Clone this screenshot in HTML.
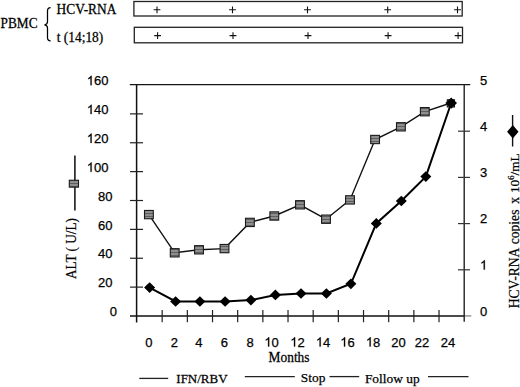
<!DOCTYPE html><html><head><meta charset="utf-8"><style>html,body{margin:0;padding:0;background:#fff;}svg{display:block;}</style></head><body>
<svg width="520" height="387" viewBox="0 0 520 387">
<rect x="0" y="0" width="520" height="387" fill="#fff"/>
<text transform="translate(0.6,27.7) scale(1,1.03)" style="font-family:'Liberation Serif',serif;font-size:13.3px" fill="#000" stroke="#000" stroke-width="0.25" >PBMC</text>
<text transform="translate(56.6,13.9) scale(1,1.04)" style="font-family:'Liberation Serif',serif;font-size:13.4px" fill="#000" stroke="#000" stroke-width="0.25" >HCV-RNA</text>
<text transform="translate(56.8,42.3) scale(1,1.02)" style="font-family:'Liberation Serif',serif;font-size:13.4px" fill="#000" stroke="#000" stroke-width="0.25" >t (14;18)</text>
<path d="M50.6,7.5 C48.3,7.5 47.5,8.5 47.5,11 L47.5,21.5 C47.5,23.5 46.6,24.6 44.5,24.8 C46.6,25 47.5,26 47.5,28 L47.5,37.6 C47.5,40 48.3,40.9 50.6,40.9" fill="none" stroke="#000" stroke-width="1.25"/>
<rect x="133.9" y="1.5" width="328.3" height="14.5" fill="none" stroke="#222" stroke-width="1.3"/>
<rect x="134.3" y="27.3" width="328.2" height="15.5" fill="none" stroke="#222" stroke-width="1.3"/>
<path d="M153.6,9.8H160.4M157.0,6.4V13.200000000000001" stroke="#111" stroke-width="1.1" fill="none"/>
<path d="M229.1,9.8H235.9M232.5,6.4V13.200000000000001" stroke="#111" stroke-width="1.1" fill="none"/>
<path d="M304.1,9.8H310.9M307.5,6.4V13.200000000000001" stroke="#111" stroke-width="1.1" fill="none"/>
<path d="M384.3,9.8H391.09999999999997M387.7,6.4V13.200000000000001" stroke="#111" stroke-width="1.1" fill="none"/>
<path d="M454.1,9.8H460.9M457.5,6.4V13.200000000000001" stroke="#111" stroke-width="1.1" fill="none"/>
<path d="M154.2,35.6H161.0M157.6,32.2V39.0" stroke="#111" stroke-width="1.1" fill="none"/>
<path d="M229.6,35.6H236.4M233.0,32.2V39.0" stroke="#111" stroke-width="1.1" fill="none"/>
<path d="M304.6,35.6H311.4M308.0,32.2V39.0" stroke="#111" stroke-width="1.1" fill="none"/>
<path d="M384.70000000000005,35.6H391.5M388.1,32.2V39.0" stroke="#111" stroke-width="1.1" fill="none"/>
<path d="M454.70000000000005,35.6H461.5M458.1,32.2V39.0" stroke="#111" stroke-width="1.1" fill="none"/>
<g fill="none" stroke-linecap="butt">
<path d="M129.8,84.6H470.2" stroke="#151515" stroke-width="1.35"/>
<path d="M130,315.9H464.2" stroke="#111" stroke-width="1.5"/>
<path d="M464.2,315.9H471.3" stroke="#888" stroke-width="1.3"/>
<path d="M136.6,84V322.5" stroke="#111" stroke-width="1.5"/>
<path d="M464.2,84V321.8" stroke="#1a1a1a" stroke-width="1.35"/>
<path d="M130,287.12H143" stroke="#222" stroke-width="1.2"/>
<path d="M130,258.25H143" stroke="#222" stroke-width="1.2"/>
<path d="M130,229.38H143" stroke="#222" stroke-width="1.2"/>
<path d="M130,200.50H143" stroke="#222" stroke-width="1.2"/>
<path d="M130,171.62H143" stroke="#222" stroke-width="1.2"/>
<path d="M130,142.75H143" stroke="#222" stroke-width="1.2"/>
<path d="M130,113.88H143" stroke="#222" stroke-width="1.2"/>
<path d="M458,269.80H470" stroke="#333" stroke-width="1.2"/>
<path d="M458,223.60H470" stroke="#333" stroke-width="1.2"/>
<path d="M458,177.40H470" stroke="#333" stroke-width="1.2"/>
<path d="M458,131.20H470" stroke="#333" stroke-width="1.2"/>
<path d="M162.17,310H162.17V322.3" stroke="#222" stroke-width="1.2"/>
<path d="M187.34,310H187.34V322.3" stroke="#222" stroke-width="1.2"/>
<path d="M212.51,310H212.51V322.3" stroke="#222" stroke-width="1.2"/>
<path d="M237.68,310H237.68V322.3" stroke="#222" stroke-width="1.2"/>
<path d="M262.85,310H262.85V322.3" stroke="#222" stroke-width="1.2"/>
<path d="M288.02,310H288.02V322.3" stroke="#222" stroke-width="1.2"/>
<path d="M313.18,310H313.18V322.3" stroke="#222" stroke-width="1.2"/>
<path d="M338.35,310H338.35V322.3" stroke="#222" stroke-width="1.2"/>
<path d="M363.52,310H363.52V322.3" stroke="#222" stroke-width="1.2"/>
<path d="M388.69,310H388.69V322.3" stroke="#222" stroke-width="1.2"/>
<path d="M413.86,310H413.86V322.3" stroke="#222" stroke-width="1.2"/>
<path d="M439.03,310H439.03V322.3" stroke="#222" stroke-width="1.2"/>
</g>
<g style="font-family:'Liberation Sans',sans-serif;font-size:13.0px" fill="#000" stroke="#000" stroke-width="0.25">
<text x="109.77" y="316.20">0</text>
<text x="97.94" y="287.32">2</text><text x="105.17" y="287.32">0</text>
<text x="97.94" y="258.45">4</text><text x="105.17" y="258.45">0</text>
<text x="97.94" y="229.57">6</text><text x="105.17" y="229.57">0</text>
<text x="97.94" y="200.70">8</text><text x="105.17" y="200.70">0</text>
<path transform="translate(86.81,171.82) scale(0.006348,-0.006348)" d="M763,0H583V1147Q518,1085 412,1023T223,930V1104Q374,1175 487,1276T647,1472H763Z" fill="#000" stroke="#000" stroke-width="39.4"/><text x="94.04" y="171.82">0</text><text x="101.27" y="171.82">0</text>
<path transform="translate(86.81,142.95) scale(0.006348,-0.006348)" d="M763,0H583V1147Q518,1085 412,1023T223,930V1104Q374,1175 487,1276T647,1472H763Z" fill="#000" stroke="#000" stroke-width="39.4"/><text x="94.04" y="142.95">2</text><text x="101.27" y="142.95">0</text>
<path transform="translate(86.81,114.08) scale(0.006348,-0.006348)" d="M763,0H583V1147Q518,1085 412,1023T223,930V1104Q374,1175 487,1276T647,1472H763Z" fill="#000" stroke="#000" stroke-width="39.4"/><text x="94.04" y="114.08">4</text><text x="101.27" y="114.08">0</text>
<path transform="translate(86.81,85.20) scale(0.006348,-0.006348)" d="M763,0H583V1147Q518,1085 412,1023T223,930V1104Q374,1175 487,1276T647,1472H763Z" fill="#000" stroke="#000" stroke-width="39.4"/><text x="94.04" y="85.20">6</text><text x="101.27" y="85.20">0</text>
<text x="480.00" y="315.70">0</text>
<path transform="translate(480.00,269.50) scale(0.006348,-0.006348)" d="M763,0H583V1147Q518,1085 412,1023T223,930V1104Q374,1175 487,1276T647,1472H763Z" fill="#000" stroke="#000" stroke-width="39.4"/>
<text x="480.00" y="223.30">2</text>
<text x="480.00" y="177.10">3</text>
<text x="480.00" y="130.90">4</text>
<text x="480.00" y="84.70">5</text>
<text x="145.29" y="346.60">0</text>
<text x="170.69" y="346.60">2</text>
<text x="195.19" y="346.60">4</text>
<text x="220.69" y="346.60">6</text>
<text x="246.39" y="346.60">8</text>
<path transform="translate(264.37,346.60) scale(0.006348,-0.006348)" d="M763,0H583V1147Q518,1085 412,1023T223,930V1104Q374,1175 487,1276T647,1472H763Z" fill="#000" stroke="#000" stroke-width="39.4"/><text x="271.60" y="346.60">0</text>
<path transform="translate(290.27,346.60) scale(0.006348,-0.006348)" d="M763,0H583V1147Q518,1085 412,1023T223,930V1104Q374,1175 487,1276T647,1472H763Z" fill="#000" stroke="#000" stroke-width="39.4"/><text x="297.50" y="346.60">2</text>
<path transform="translate(315.87,346.60) scale(0.006348,-0.006348)" d="M763,0H583V1147Q518,1085 412,1023T223,930V1104Q374,1175 487,1276T647,1472H763Z" fill="#000" stroke="#000" stroke-width="39.4"/><text x="323.10" y="346.60">4</text>
<path transform="translate(340.27,346.60) scale(0.006348,-0.006348)" d="M763,0H583V1147Q518,1085 412,1023T223,930V1104Q374,1175 487,1276T647,1472H763Z" fill="#000" stroke="#000" stroke-width="39.4"/><text x="347.50" y="346.60">6</text>
<path transform="translate(365.87,346.60) scale(0.006348,-0.006348)" d="M763,0H583V1147Q518,1085 412,1023T223,930V1104Q374,1175 487,1276T647,1472H763Z" fill="#000" stroke="#000" stroke-width="39.4"/><text x="373.10" y="346.60">8</text>
<text x="391.17" y="346.60">2</text><text x="398.40" y="346.60">0</text>
<text x="414.87" y="346.60">2</text><text x="422.10" y="346.60">2</text>
<text x="440.87" y="346.60">2</text><text x="448.10" y="346.60">4</text>
</g>
<polyline points="148.90,214.6 174.70,252.8 199.00,249.8 224.50,248.6 249.90,222.4 274.30,216.0 300.00,204.8 326.00,219.2 350.00,199.9 375.10,139.5 400.90,126.8 424.80,111.7 450.80,103.0" fill="none" stroke="#111" stroke-width="1.4"/>
<polyline points="149.60,287.6 175.60,301.5 199.90,301.5 225.10,301.5 250.90,300.1 275.40,294.9 301.00,293.5 326.40,293.5 350.90,283.8 376.30,223.4 401.30,201.0 425.80,176.6 451.20,103.0" fill="none" stroke="#000" stroke-width="2"/>
<defs><pattern id="pt" width="3" height="3" patternUnits="userSpaceOnUse"><rect width="3" height="3" fill="#8e8e8e"/><rect width="3" height="1" fill="#5e5e5e"/></pattern></defs>
<rect x="144.50" y="210.45" width="8.8" height="8.3" fill="url(#pt)" stroke="#1a1a1a" stroke-width="1.1"/>
<rect x="170.30" y="248.65" width="8.8" height="8.3" fill="url(#pt)" stroke="#1a1a1a" stroke-width="1.1"/>
<rect x="194.60" y="245.65" width="8.8" height="8.3" fill="url(#pt)" stroke="#1a1a1a" stroke-width="1.1"/>
<rect x="220.10" y="244.45" width="8.8" height="8.3" fill="url(#pt)" stroke="#1a1a1a" stroke-width="1.1"/>
<rect x="245.50" y="218.25" width="8.8" height="8.3" fill="url(#pt)" stroke="#1a1a1a" stroke-width="1.1"/>
<rect x="269.90" y="211.85" width="8.8" height="8.3" fill="url(#pt)" stroke="#1a1a1a" stroke-width="1.1"/>
<rect x="295.60" y="200.65" width="8.8" height="8.3" fill="url(#pt)" stroke="#1a1a1a" stroke-width="1.1"/>
<rect x="321.60" y="215.05" width="8.8" height="8.3" fill="url(#pt)" stroke="#1a1a1a" stroke-width="1.1"/>
<rect x="345.60" y="195.75" width="8.8" height="8.3" fill="url(#pt)" stroke="#1a1a1a" stroke-width="1.1"/>
<rect x="370.70" y="135.35" width="8.8" height="8.3" fill="url(#pt)" stroke="#1a1a1a" stroke-width="1.1"/>
<rect x="396.50" y="122.65" width="8.8" height="8.3" fill="url(#pt)" stroke="#1a1a1a" stroke-width="1.1"/>
<rect x="420.40" y="107.55" width="8.8" height="8.3" fill="url(#pt)" stroke="#1a1a1a" stroke-width="1.1"/>
<rect x="447.30" y="99.80" width="7.2" height="7.2" fill="url(#pt)" stroke="#1a1a1a" stroke-width="1.1"/>
<path d="M149.60,282.25L155.10,287.60L149.60,292.95L144.10,287.60Z" fill="#000"/>
<path d="M175.60,296.15L181.10,301.50L175.60,306.85L170.10,301.50Z" fill="#000"/>
<path d="M199.90,296.15L205.40,301.50L199.90,306.85L194.40,301.50Z" fill="#000"/>
<path d="M225.10,296.15L230.60,301.50L225.10,306.85L219.60,301.50Z" fill="#000"/>
<path d="M250.90,294.75L256.40,300.10L250.90,305.45L245.40,300.10Z" fill="#000"/>
<path d="M275.40,289.55L280.90,294.90L275.40,300.25L269.90,294.90Z" fill="#000"/>
<path d="M301.00,288.15L306.50,293.50L301.00,298.85L295.50,293.50Z" fill="#000"/>
<path d="M326.40,288.15L331.90,293.50L326.40,298.85L320.90,293.50Z" fill="#000"/>
<path d="M350.90,278.45L356.40,283.80L350.90,289.15L345.40,283.80Z" fill="#000"/>
<path d="M376.30,218.05L381.80,223.40L376.30,228.75L370.80,223.40Z" fill="#000"/>
<path d="M401.30,195.65L406.80,201.00L401.30,206.35L395.80,201.00Z" fill="#000"/>
<path d="M425.80,171.25L431.30,176.60L425.80,181.95L420.30,176.60Z" fill="#000"/>
<path d="M451.20,97.50L457.00,103.10L451.20,108.70L445.40,103.10Z" fill="#000"/>
<path d="M74.9,155.5V210.5" stroke="#1a1a1a" stroke-width="1.6"/>
<rect x="69.30" y="180.25" width="9.2" height="6.9" fill="url(#pt)" stroke="#1a1a1a" stroke-width="1.1"/>
<text transform="translate(75.9,278.9) rotate(-90) scale(1,1.04)" style="font-family:'Liberation Serif',serif;font-size:13.2px" fill="#000" stroke="#000" stroke-width="0.2">ALT ( U/L)</text>
<path d="M512.6,115V146.5" stroke="#111" stroke-width="1.4"/>
<path d="M512.80,124.90L518.50,131.70L512.80,138.50L507.10,131.70Z" fill="#000"/>
<text transform="translate(518.6,308.3) rotate(-90)" style="font-family:'Liberation Serif',serif;font-size:13.6px" fill="#000" stroke="#000" stroke-width="0.22">HCV-RNA</text>
<text transform="translate(518.6,244.3) rotate(-90)" style="font-family:'Liberation Serif',serif;font-size:13.6px" fill="#000" stroke="#000" stroke-width="0.22">copies</text>
<text transform="translate(518.6,203.7) rotate(-90)" style="font-family:'Liberation Serif',serif;font-size:13.6px" fill="#000" stroke="#000" stroke-width="0.22">x</text>
<text transform="translate(518.6,193.1) rotate(-90)" style="font-family:'Liberation Serif',serif;font-size:13.3px" fill="#000" stroke="#000" stroke-width="0.22">10<tspan dy="-4.8" style="font-size:8.6px">6</tspan><tspan dy="4.8">/mL</tspan></text>
<text transform="translate(268.6,362.2) scale(1,1.03)" style="font-family:'Liberation Serif',serif;font-size:13.4px" fill="#000" stroke="#000" stroke-width="0.25" >Months</text>
<text transform="translate(176.3,382.9) scale(1,1.03)" style="font-family:'Liberation Serif',serif;font-size:13.0px" fill="#000" stroke="#000" stroke-width="0.25" >IFN/RBV</text>
<text transform="translate(300.8,382.4) scale(1,1.0)" style="font-family:'Liberation Serif',serif;font-size:13.4px" fill="#000" stroke="#000" stroke-width="0.25" >Stop</text>
<text transform="translate(364.9,382.6) scale(1,1.0)" style="font-family:'Liberation Serif',serif;font-size:13.4px" fill="#000" stroke="#000" stroke-width="0.25" >Follow up</text>
<g stroke="#222" stroke-width="1.3">
<path d="M139.3,378.4H168.2"/>
<path d="M244.8,376.6H294.8"/>
<path d="M329.5,376.6H359.2"/>
<path d="M428,376.6H468.5"/>
</g>
</svg></body></html>
